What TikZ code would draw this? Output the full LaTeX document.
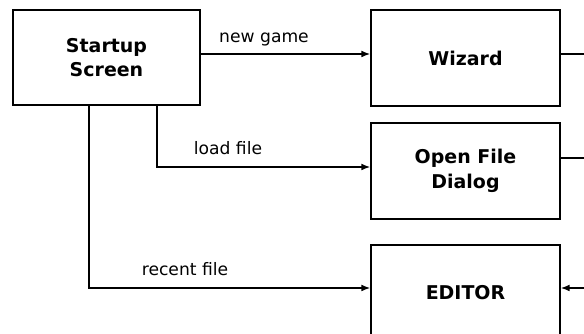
\documentclass[tikz,border=0pt]{standalone}
\usepackage{fontspec}
\setmainfont{DejaVu Sans}
\tikzset{node distance=2cm, auto}
\usetikzlibrary{positioning, arrows.meta}

\begin{document}
\begin{tikzpicture}
\tikzset{
  screen/.style={draw, line width=1.1pt, minimum width=4.725cm, minimum height=2.4cm, inner sep=0pt, align=center, font=\fontsize{13.5}{17.5}\selectfont\bfseries},
  link/.style={line width=1pt},
  flow/.style={link, -{Latex[length=2.2mm,width=1.7mm]}},
  tag/.style={font=\fontsize{12.2}{14}\selectfont}
}
\useasboundingbox (0,0) rectangle (14.6,8.35);

\node[screen, minimum width=4.675cm, minimum height=2.375cm] (startup) at (2.6625,6.9125) {Startup\\Screen};
\node[screen] (wizard) at (11.6375,6.9) {Wizard};
\node[screen] (openfile) at (11.6375,4.075) {Open File\\Dialog};
\node[screen] (editor) at (11.6375,1.025) {EDITOR};

\coordinate (wizout) at (14.6,7.0);
\coordinate (openout) at (14.6,4.4);
\coordinate (editin) at (14.6,1.15);
\coordinate (loadturn) at (3.925,4.175);
\coordinate (recentturn) at (2.225,1.15);

\draw[flow] (startup.east |- wizout) -- (wizard.west |- wizout);
\draw[flow] (startup.south -| loadturn) |- (openfile.west |- loadturn);
\draw[flow] (startup.south -| recentturn) |- (editor.west |- recentturn);

\draw[link] (wizard.east |- wizout) -- (wizout);
\draw[link] (openfile.east |- openout) -- (openout);
\draw[flow] (editin) -- (editor.east |- editin);

\node[tag] (newgame) at (6.6,7.375) {new game};
\node[tag] (loadfile) at (5.7,4.64) {load file};
\node[tag] (recentfile) at (4.625,1.615) {recent file};
\end{tikzpicture}
\end{document}
